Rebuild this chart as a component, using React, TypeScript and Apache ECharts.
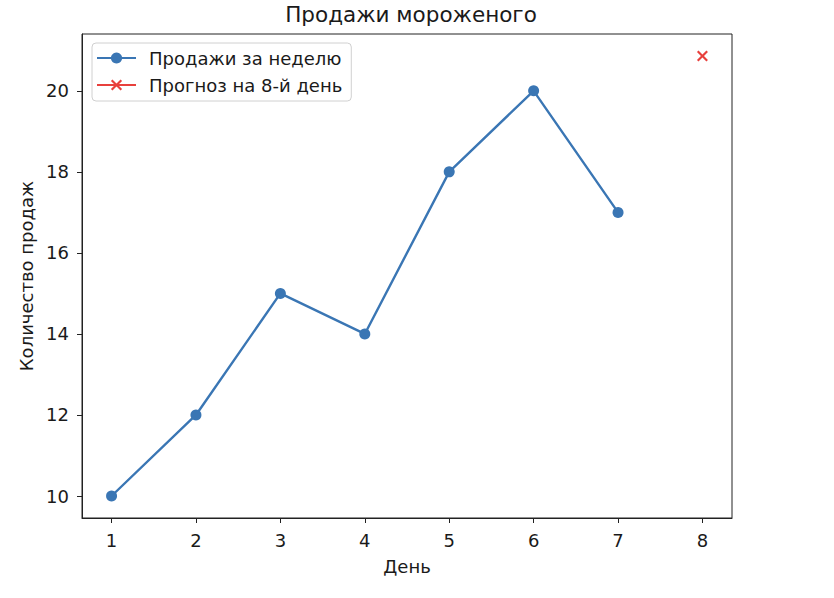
import React, { useEffect, useRef } from "react";
import * as echarts from "echarts";

const days = [1, 2, 3, 4, 5, 6, 7];
const sales = [10, 12, 15, 14, 18, 20, 17];
const forecastDay = 8;
const forecastValue = 20.86;
const xTicks = [1, 2, 3, 4, 5, 6, 7, 8];
const yTicks = [10, 12, 14, 16, 18, 20];
const seriesNames = ["Продажи за неделю", "Прогноз на 8-й день"];
const titleText = "Продажи мороженого";
const xName = "День";
const yName = "Количество продаж";

const FONT = "DejaVu Sans";
const TEXT = "#1a1a1a";
const BLUE = "#3a76b4";
const RED = "#e8403c";
const CROSS =
  "path://M0,1.4L1.4,0L5,3.6L8.6,0L10,1.4L6.4,5L10,8.6L8.6,10L5,6.4L1.4,10L0,8.6L3.6,5Z";

export default function App() {
  const ref = useRef<HTMLDivElement>(null);
  useEffect(() => {
    if (!ref.current) return;
    const chart = echarts.init(ref.current, undefined, { renderer: "svg" });
    const allY = [...sales, forecastValue];
    const yMinD = Math.min(...allY);
    const yMaxD = Math.max(...allY);
    const yPad = (yMaxD - yMinD) * 0.05;
    const xMinD = Math.min(...days, forecastDay);
    const xMaxD = Math.max(...days, forecastDay);
    const xPad = (xMaxD - xMinD) * 0.05;
    chart.setOption({
      animation: false,
      backgroundColor: "#ffffff",
      textStyle: { fontFamily: FONT, color: TEXT },
      title: {
        text: titleText,
        left: 406,
        top: -2,
        textAlign: "center",
        textStyle: { fontFamily: FONT, fontSize: 21.5, fontWeight: "normal", color: TEXT },
      },
      grid: {
        left: 82,
        top: 34,
        right: 102,
        bottom: 80,
        show: true,
        borderColor: "#222",
        borderWidth: 1,
        backgroundColor: "transparent",
      },
      legend: {
        orient: "vertical",
        left: 92,
        top: 43,
        itemWidth: 39,
        itemHeight: 14,
        itemGap: 9,
        padding: [6, 9, 7, 4],
        backgroundColor: "#fff",
        borderColor: "#d0d0d0",
        borderWidth: 1,
        borderRadius: 4,
        textStyle: { fontFamily: FONT, fontSize: 18, color: TEXT, padding: [0, 0, 0, 8] },
        data: seriesNames,
      },
      xAxis: {
        type: "value",
        min: xMinD - xPad,
        max: xMaxD + xPad,
        name: xName,
        nameLocation: "middle",
        nameGap: 39,
        nameTextStyle: { fontFamily: FONT, fontSize: 18, color: TEXT },
        axisLine: { show: true, lineStyle: { color: "#222", width: 1 } },
        axisTick: { show: true, length: 5, lineStyle: { color: "#222" }, customValues: xTicks },
        axisLabel: {
          fontFamily: FONT,
          fontSize: 18,
          color: TEXT,
          margin: 13,
          customValues: xTicks,
          formatter: (v: number) => String(v),
        },
        splitLine: { show: false },
      },
      yAxis: {
        type: "value",
        min: yMinD - yPad,
        max: yMaxD + yPad,
        name: yName,
        nameLocation: "middle",
        nameGap: 45,
        nameTextStyle: { fontFamily: FONT, fontSize: 18, color: TEXT },
        axisLine: { show: true, lineStyle: { color: "#222", width: 1 } },
        axisTick: { show: true, length: 5, lineStyle: { color: "#222" }, customValues: yTicks },
        axisLabel: {
          fontFamily: FONT,
          fontSize: 18,
          color: TEXT,
          margin: 13,
          customValues: yTicks,
          formatter: (v: number) => String(v),
        },
        splitLine: { show: false },
      },
      series: [
        {
          name: seriesNames[0],
          type: "line",
          data: days.map((d, i) => [d, sales[i]]),
          symbol: "circle",
          symbolSize: 11,
          showAllSymbol: true,
          color: BLUE,
          itemStyle: { color: BLUE },
          lineStyle: { color: BLUE, width: 2.4 },
        },
        {
          name: seriesNames[1],
          type: "line",
          data: [[forecastDay, forecastValue]],
          symbol: CROSS,
          symbolSize: 11,
          color: RED,
          itemStyle: { color: RED },
          lineStyle: { color: RED, width: 2.4 },
        },
      ],
    });
    return () => chart.dispose();
  }, []);
  return (
    <div
      ref={ref}
      style={{ position: "absolute", left: 0, top: 0, width: 834, height: 598 }}
    />
  );
}
